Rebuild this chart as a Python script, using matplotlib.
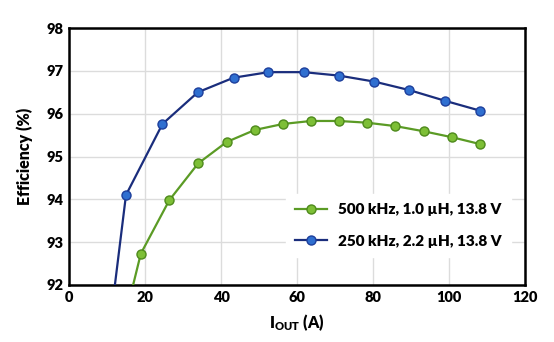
import matplotlib
matplotlib.use("Agg")
import matplotlib.pyplot as plt
from matplotlib import font_manager

# --- data (IOUT in A, efficiency in %) ---
iout_500 = [13.0, 18.9, 26.4, 34.0, 41.5, 48.9, 56.3, 63.7, 71.0, 78.4, 85.9, 93.3, 100.8, 108.2]
eff_500 = [90.6, 92.73, 93.98, 94.84, 95.34, 95.62, 95.76, 95.83, 95.83, 95.79, 95.71, 95.59, 95.45, 95.29]

iout_250 = [10.0, 15.0, 24.6, 33.9, 43.3, 52.5, 61.8, 71.0, 80.3, 89.6, 99.0, 108.2]
eff_250 = [90.5, 94.10, 95.76, 96.50, 96.84, 96.97, 96.97, 96.89, 96.75, 96.55, 96.30, 96.07]

label_500 = "500 kHz, 1.0 µH, 13.8 V"
label_250 = "250 kHz, 2.2 µH, 13.8 V"

xticks = [0, 20, 40, 60, 80, 100, 120]
yticks = [92, 93, 94, 95, 96, 97, 98]

# condensed-looking bold face; take the first one that is installed
names = {f.name for f in font_manager.fontManager.ttflist}
face = next((n for n in ["Liberation Sans Narrow", "Lato", "Liberation Sans"] if n in names),
            "DejaVu Sans")
plt.rcParams["font.family"] = [face, "DejaVu Sans"]
plt.rcParams["font.weight"] = "bold"

fig = plt.figure(figsize=(5.54, 3.42), dpi=100)
ax = fig.add_axes([0.1245, 0.1667, 0.8232, 0.7513])

ax.plot(iout_500, eff_500, color="#5b9b25", lw=1.6, marker="o", ms=6.5,
        mfc="#7dbf36", mec="#4e8a1c", mew=1.0, label=label_500, zorder=3)
ax.plot(iout_250, eff_250, color="#1a2d7c", lw=1.6, marker="o", ms=6.5,
        mfc="#2f6fd0", mec="#1d3f9c", mew=1.0, label=label_250, zorder=3)

ax.set_xlim(0, 120)
ax.set_ylim(92, 98)
ax.set_xticks(xticks)
ax.set_yticks(yticks)
ax.tick_params(length=0, labelsize=10.5, pad=4)
for lab in ax.get_xticklabels() + ax.get_yticklabels():
    lab.set_fontweight("heavy")

ax.grid(True, color="#dcdcdc", lw=1.0, zorder=0)
ax.set_axisbelow(True)
for sp in ax.spines.values():
    sp.set_linewidth(1.8)
    sp.set_color("black")

ax.set_ylabel("Efficiency (%)", fontsize=11.5, fontweight="heavy", labelpad=10)
ax.set_xlabel(r"I$_{\mathregular{OUT}}$ (A)", fontsize=11.5, fontweight="heavy", labelpad=6)

leg = ax.legend(loc="lower right", bbox_to_anchor=(0.985, 0.08), fontsize=11,
                frameon=True, framealpha=1.0, edgecolor="white", fancybox=False,
                handlelength=2.1, handletextpad=0.7, labelspacing=1.2, borderpad=0.6)
for t in leg.get_texts():
    t.set_fontweight("heavy")

fig.savefig("out.png", dpi=100)
